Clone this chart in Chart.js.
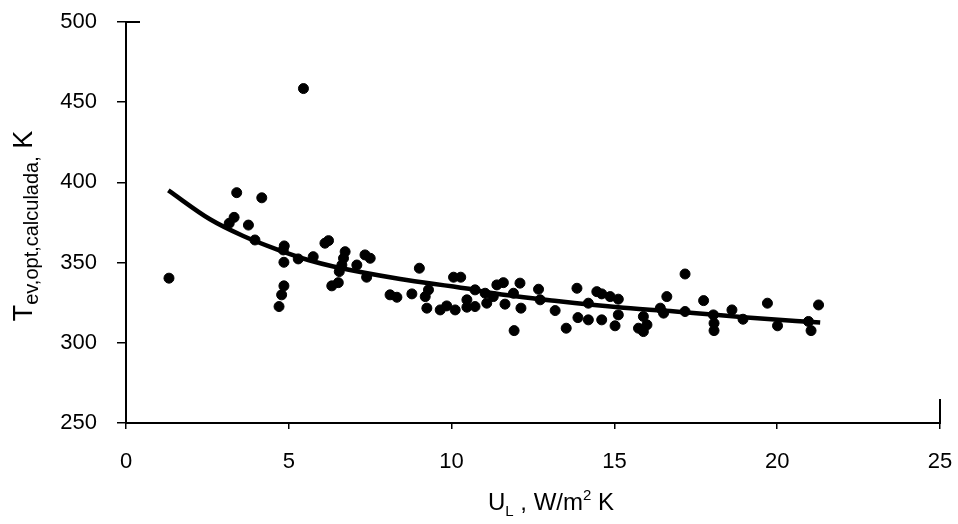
<!DOCTYPE html>
<html>
<head>
<meta charset="utf-8">
<script src="https://cdn.jsdelivr.net/npm/chart.js@4.4.1/dist/chart.umd.min.js"></script>
<style>
    body { margin: 0; background: #fff; }
    #wrap { width: 958px; height: 524px; position: relative; }
</style>
</head>
<body>
<div id="wrap"><canvas id="myChart"></canvas></div>
<script>
// measured points: U_L (W/m2 K) and T_ev,opt,calculada (K)
const ulValues = [
    1.32, 5.45, 3.40, 4.17, 3.32, 3.17, 3.76, 3.96, 4.86, 4.83,
    4.85, 5.29, 4.85, 4.78, 4.70, 6.11, 6.22, 5.75, 6.73, 6.68,
    6.63, 7.34, 7.50, 7.09, 6.55, 7.39, 6.32, 6.52, 9.01, 8.11,
    8.32, 8.78, 9.19, 9.24, 9.65, 9.85, 10.11, 10.06, 10.28, 9.29,
    10.47, 10.72, 10.47, 10.72, 11.08, 11.03, 11.39, 11.28, 11.59, 12.10,
    11.90, 11.64, 12.13, 11.92, 12.67, 12.72, 13.18, 13.52, 13.85, 13.88,
    14.20, 14.20, 14.46, 14.61, 14.87, 15.12, 14.61, 15.02, 15.12, 15.74,
    15.89, 16.00, 15.89, 16.41, 16.51, 16.61, 17.17, 17.17, 17.74, 18.04,
    18.06, 18.06, 18.61, 18.95, 19.70, 20.01, 20.96, 21.04, 21.27
];
const tempValues = [
    340.3, 458.5, 393.6, 390.4, 378.2, 374.5, 373.4, 364.1, 360.4, 357.9,
    350.2, 352.3, 335.5, 329.9, 322.6, 362.1, 363.7, 353.7, 356.8, 352.7,
    348.5, 354.8, 352.7, 348.5, 344.4, 340.9, 335.5, 337.5, 346.5, 329.9,
    328.4, 330.5, 328.8, 321.6, 320.5, 323.0, 320.5, 340.9, 340.9, 333.0,
    326.8, 333.0, 322.2, 322.6, 324.7, 330.9, 336.1, 328.8, 337.5, 337.2,
    330.9, 324.1, 321.6, 307.6, 333.4, 326.8, 320.1, 309.1, 334.0, 315.7,
    314.3, 324.7, 331.9, 330.5, 328.8, 327.2, 314.3, 310.6, 317.4, 309.1,
    307.0, 311.2, 316.4, 321.6, 318.5, 328.8, 319.5, 342.9, 326.3, 317.4,
    312.2, 307.6, 320.5, 314.7, 324.7, 310.6, 313.3, 307.6, 323.6
];

// fitted curve
const fitU = [1.30, 2.58, 3.60, 4.63, 5.65, 6.37, 8.42, 10.47, 11.18, 13.23, 15.28, 17.33, 19.07, 21.32];
const fitT = [395.0, 377.0, 366.6, 358.3, 351.3, 347.6, 339.8, 333.8, 331.2, 326.0, 321.8, 318.8, 315.8, 312.6];

const xTicks = [0, 5, 10, 15, 20, 25];
const yTicks = [250, 300, 350, 400, 450, 500];

const FONT = '"Liberation Sans", Arial, sans-serif';

const points = ulValues.map((u, i) => ({ x: u, y: tempValues[i] }));
const curve = fitU.map((u, i) => ({ x: u, y: fitT[i] }));

// draws axis titles with sub/superscripts
const titlesPlugin = {
    id: 'titles',
    afterDraw(chart) {
        const c = chart.ctx;
        const area = chart.chartArea;
        c.save();
        c.fillStyle = '#000';
        c.textBaseline = 'alphabetic';
        c.textAlign = 'left';

        // x title: U_L , W/m2 K
        const parts = [
            { t: 'U', f: '24px', dy: 0 },
            { t: 'L', f: '15px', dy: 6 },
            { t: ' , W/m', f: '24px', dy: 0 },
            { t: '2', f: '15px', dy: -10 },
            { t: ' K', f: '24px', dy: 0 }
        ];
        let w = 0;
        parts.forEach(p => { c.font = p.f + ' ' + FONT; w += c.measureText(p.t).width; });
        let x = 551 - w / 2;
        parts.forEach(p => {
            c.font = p.f + ' ' + FONT;
            c.fillText(p.t, x, 510 + p.dy);
            x += c.measureText(p.t).width;
        });

        // y title: T_ev,opt,calculada, K
        const yparts = [
            { t: 'T', f: '27px', dy: 0 },
            { t: 'ev,opt,calculada,', f: '20px', dy: 6 },
            { t: ' K', f: '27px', dy: 0 }
        ];
        w = 0;
        yparts.forEach(p => { c.font = p.f + ' ' + FONT; w += c.measureText(p.t).width; });
        c.translate(32, 226);
        c.rotate(-Math.PI / 2);
        x = -w / 2;
        yparts.forEach(p => {
            c.font = p.f + ' ' + FONT;
            c.fillText(p.t, x, p.dy);
            x += c.measureText(p.t).width;
        });
        c.restore();

        // short marks: right end of the x axis, top of the y axis
        c.save();
        c.strokeStyle = '#000';
        c.lineWidth = 2;
        c.beginPath();
        c.moveTo(area.right, area.bottom + 1);
        c.lineTo(area.right, area.bottom - 24);
        c.moveTo(area.left, area.top);
        c.lineTo(area.left + 14, area.top);
        c.stroke();
        c.restore();
    }
};

const ctx = document.getElementById('myChart');

new Chart(ctx, {
    type: 'scatter',
    data: {
        datasets: [
            {
                label: 'calculada',
                data: points,
                backgroundColor: '#000',
                borderColor: '#000',
                pointRadius: 5,
                pointHoverRadius: 5,
                order: 2
            },
            {
                label: 'ajuste',
                type: 'line',
                data: curve,
                showLine: true,
                borderColor: '#000',
                borderWidth: 4.5,
                pointRadius: 0,
                cubicInterpolationMode: 'monotone',
                fill: false,
                order: 1
            }
        ]
    },
    options: {
        responsive: true,
        maintainAspectRatio: false,
        animation: false,
        layout: {
            padding: { left: 0, top: 22, right: 18, bottom: 0 }
        },
        plugins: {
            legend: { display: false },
            tooltip: { enabled: false }
        },
        scales: {
            x: {
                type: 'linear',
                min: xTicks[0],
                max: xTicks[xTicks.length - 1],
                afterBuildTicks: s => { s.ticks = xTicks.map(v => ({ value: v })); },
                afterFit: s => {
                    s.height = 101;
                    s.paddingLeft = 0;
                    s.paddingRight = 0;
                },
                ticks: {
                    color: '#000',
                    font: { family: FONT, size: 22 },
                    padding: 20
                },
                grid: {
                    drawOnChartArea: false,
                    color: '#000',
                    lineWidth: 1.5,
                    tickLength: 6
                },
                border: { color: '#000', width: 2 }
            },
            y: {
                min: yTicks[0],
                max: yTicks[yTicks.length - 1],
                afterBuildTicks: s => { s.ticks = yTicks.map(v => ({ value: v })); },
                afterFit: s => {
                    s.width = 126;
                    s.paddingTop = 0;
                    s.paddingBottom = 0;
                },
                ticks: {
                    color: '#000',
                    font: { family: FONT, size: 22 },
                    padding: 20
                },
                grid: {
                    drawOnChartArea: false,
                    color: '#000',
                    lineWidth: 1.5,
                    tickLength: 9
                },
                border: { color: '#000', width: 2 }
            }
        }
    },
    plugins: [titlesPlugin]
});
</script>
</body>
</html>
